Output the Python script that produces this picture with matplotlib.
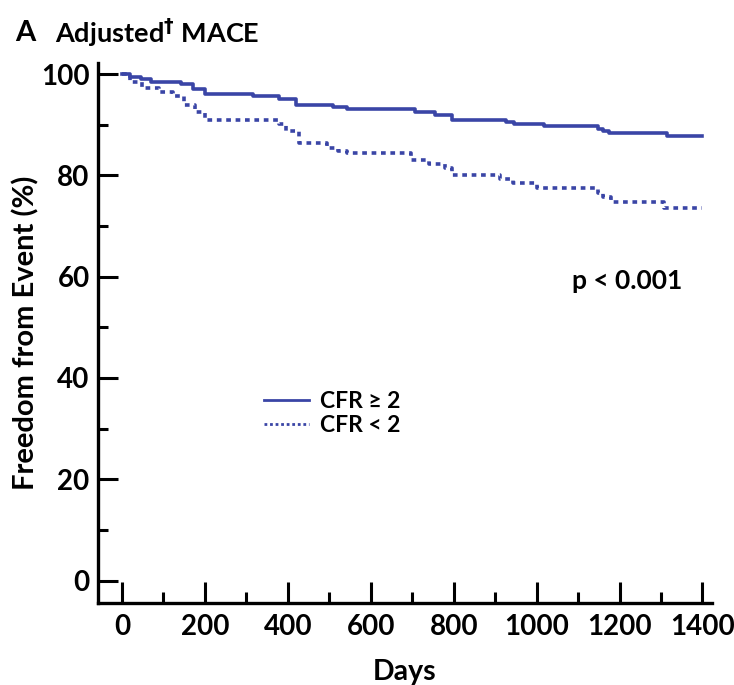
import matplotlib
matplotlib.use('Agg')
import matplotlib.pyplot as plt
from matplotlib.lines import Line2D
from matplotlib.ticker import MultipleLocator

plt.rcParams['font.family'] = ['Lato', 'DejaVu Sans']
plt.rcParams['font.weight'] = 'bold'

# Kaplan-Meier style step curves
days_hi = [0, 20, 45, 69, 143, 170, 200, 315, 379, 420, 510, 543, 707, 756, 797, 927, 945, 1017, 1148, 1160, 1175, 1315, 1400]
surv_hi = [100, 99.5, 99.0, 98.5, 98.0, 97.0, 96.0, 95.7, 95.0, 93.9, 93.6, 93.1, 92.6, 92.0, 91.0, 90.5, 90.1, 89.8, 89.2, 88.8, 88.3, 87.8, 87.8]

days_lo = [0, 20, 47, 90, 123, 150, 175, 200, 379, 395, 427, 494, 520, 543, 698, 740, 780, 797, 911, 943, 1000, 1148, 1160, 1180, 1306, 1400]
surv_lo = [100, 98.5, 97.2, 96.5, 95.6, 94.0, 92.5, 91.0, 90.2, 88.7, 86.4, 85.4, 84.9, 84.5, 83.0, 82.2, 81.5, 80.0, 79.2, 78.5, 77.5, 76.5, 75.8, 74.8, 73.5, 73.5]

labels = ['CFR \u2265 2', 'CFR < 2']
blue = '#3a45a6'
fs = 20

fig = plt.figure(figsize=(7.34, 6.85), dpi=100)
ax = fig.add_axes([0.1335, 0.120, 0.836, 0.788])

ax.step(days_hi, surv_hi, where='post', color=blue, linewidth=2.6)
ax.step(days_lo, surv_lo, where='post', color=blue, linewidth=2.6,
        linestyle=(0, (1.3, 1.3)))

ax.set_xlim(-58, 1422)
ax.set_ylim(-4.4, 102.2)

for s in ['top', 'right']:
    ax.spines[s].set_visible(False)
for s in ['left', 'bottom']:
    ax.spines[s].set_linewidth(2.4)

ax.xaxis.set_major_locator(MultipleLocator(200))
ax.xaxis.set_minor_locator(MultipleLocator(100))
ax.yaxis.set_major_locator(MultipleLocator(20))
ax.yaxis.set_minor_locator(MultipleLocator(10))
ax.tick_params(axis='x', which='major', direction='in', length=15, width=2.2, pad=8, labelsize=fs)
ax.tick_params(axis='x', which='minor', direction='in', length=8, width=2.2)
ax.tick_params(axis='y', which='major', direction='in', length=14.5, width=2.2, pad=6, labelsize=fs)
ax.tick_params(axis='y', which='minor', direction='in', length=7, width=2.2)
for lab in ax.get_xticklabels() + ax.get_yticklabels():
    lab.set_fontweight('bold')

ax.set_xlabel('Days', fontsize=20.5, fontweight='bold', labelpad=14)
ax.set_ylabel('Freedom from Event (%)', fontsize=21, fontweight='bold', labelpad=1)

ax.text(0.863, 0.596, 'p < 0.001', transform=ax.transAxes, fontsize=19, fontweight='bold',
        ha='center', va='center')

handles = [Line2D([], [], color=blue, linewidth=2.0),
           Line2D([], [], color=blue, linewidth=2.0, linestyle=(0, (1, 1)))]
leg = ax.legend(handles, labels, loc='upper left', bbox_to_anchor=(0.237, 0.43), frameon=False,
                fontsize=16.5, handlelength=1.95, handletextpad=0.5, labelspacing=0.12)
for t in leg.get_texts():
    t.set_fontweight('bold')

fig.text(0.02, 0.952, 'A', fontsize=21, fontweight='bold', ha='left', va='center')
fig.text(0.075, 0.952, 'Adjusted$^{\\dagger}$ MACE', fontsize=19.5, fontweight='bold', ha='left', va='center')

fig.savefig('out.png', dpi=100)
